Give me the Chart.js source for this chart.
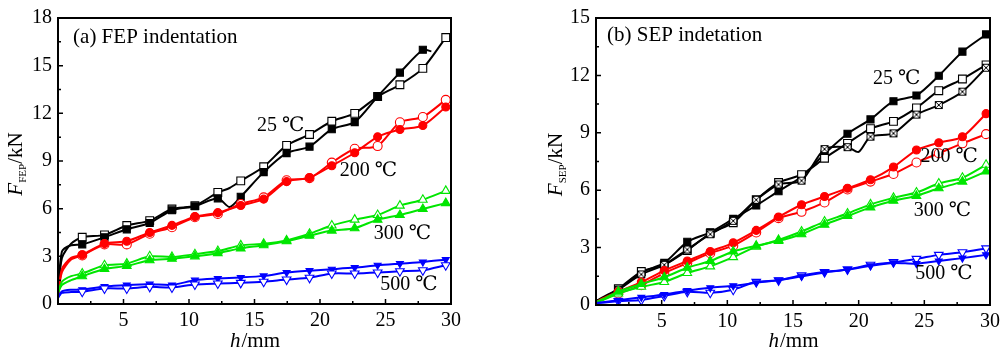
<!DOCTYPE html>
<html><head><meta charset="utf-8">
<script src="https://cdn.jsdelivr.net/npm/chart.js@4.4.0/dist/chart.umd.min.js"></script>
<style>
html,body{margin:0;padding:0;background:#fff;width:1008px;height:350px;overflow:hidden}
canvas{position:absolute;top:0}
#ca{left:0}
#cb{left:500px}
</style></head><body>
<canvas id="ca" width="500" height="350"></canvas>
<canvas id="cb" width="508" height="350"></canvas>
<script>
// ---------- data: panel (a) FEP ----------
const hA = [0, 0.3, 1.0, 1.85, 3.55, 5.25, 7.0, 8.7, 10.45, 12.2, 13.1, 13.95, 15.7, 17.45, 19.2, 20.9, 22.65, 24.4, 26.1, 27.85, 28.5, 29.6];
const hA_noMarker = [0, 0.3, 1.0, 13.1, 28.5];
const a25f  = [0.5, 3.3, 3.7, 3.75, 4.2, 4.7, 5.1, 5.9, 6.15, 6.65, 6.1, 6.75, 8.3, 9.5, 9.9, 11.0, 11.45, 13.06, 14.56, 16.0, 15.9, null];
const a25o  = [0.6, 2.9, 3.8, 4.2, 4.35, 4.94, 5.25, 5.98, 6.19, 7.02, 7.3, 7.75, 8.64, 9.98, 10.67, 11.5, 12.0, 13.06, 13.8, 14.83, null, 16.77];
const a200f = [0.5, 2.2, 2.9, 3.1, 3.8, 3.95, 4.5, 4.95, 5.5, 5.75, null, 6.2, 6.6, 7.7, 7.95, 8.7, 9.52, 10.52, 10.98, 11.23, null, 12.4];
const a200o = [0.5, 2.0, 2.8, 3.06, 3.75, 3.75, 4.42, 4.83, 5.46, 5.67, null, 6.29, 6.71, 7.79, 7.92, 8.9, 9.77, 9.94, 11.44, 11.77, null, 12.85];
const a300f = [0.7, 1.2, 1.5, 1.75, 2.2, 2.4, 2.75, 2.85, 3.0, 3.2, null, 3.5, 3.7, 3.95, 4.3, 4.62, 4.77, 5.31, 5.6, 5.98, null, 6.35];
const a300o = [0.7, 1.4, 1.75, 1.92, 2.44, 2.54, 3.0, 2.96, 3.13, 3.33, null, 3.69, 3.79, 4.0, 4.42, 4.94, 5.31, 5.6, 6.19, 6.56, null, 7.12];
const a500f = [0.4, 0.8, 0.9, 0.9, 1.1, 1.2, 1.25, 1.2, 1.5, 1.6, null, 1.67, 1.77, 1.98, 2.1, 2.19, 2.29, 2.44, 2.54, 2.64, null, 2.79];
const a500o = [0.4, 0.7, 0.75, 0.77, 0.98, 0.98, 1.08, 1.04, 1.23, 1.29, null, 1.33, 1.4, 1.54, 1.65, 1.92, 1.92, 1.98, 2.06, 2.12, null, 2.44];

// ---------- data: panel (b) SEP ----------
const hB = [0, 0.5, 1.7, 3.45, 5.2, 6.95, 8.7, 10.45, 12.2, 13.9, 15.65, 17.4, 19.15, 20.0, 20.9, 22.65, 24.4, 26.1, 27.9, 29.7];
const hB_noMarker = [0, 0.5, 20.0];
const b25f  = [0.2, 0.35, 0.8, 1.7, 2.2, 3.3, 3.8, 4.5, 5.2, 5.95, 6.7, 7.9, 8.95, null, 9.7, 10.65, 10.95, 11.98, 13.24, 14.14];
const b25o  = [0.2, 0.4, 0.85, 1.75, 2.1, 2.85, 3.75, 4.3, 5.5, 6.4, 6.81, 7.67, 8.45, null, 9.22, 9.6, 10.3, 11.2, 11.81, 12.55];
const b25x  = [0.2, 0.35, 0.8, 1.6, 2.1, 2.9, 3.7, 4.4, 5.5, 6.3, 6.5, 8.15, 8.25, 8.0, 8.8, 8.97, 9.95, 10.45, 11.15, 12.4];
const b200f = [0.15, 0.35, 0.7, 1.2, 1.8, 2.3, 2.8, 3.25, 3.9, 4.6, 5.24, 5.67, 6.1, null, 6.55, 7.21, 8.1, 8.48, 8.79, 10.0];
const b200o = [0.15, 0.3, 0.6, 1.03, 1.67, 2.19, 2.71, 3.1, 3.79, 4.54, 4.87, 5.36, 6.04, null, 6.45, 6.85, 7.45, 7.93, 8.45, 8.93];
const b300f = [0.15, 0.3, 0.7, 1.1, 1.45, 1.95, 2.3, 2.8, 3.1, 3.35, 3.7, 4.2, 4.65, null, 5.1, 5.45, 5.7, 6.1, 6.45, 6.98];
const b300o = [0.15, 0.25, 0.6, 0.95, 1.2, 1.67, 2.02, 2.5, 3.05, 3.4, 3.84, 4.36, 4.78, null, 5.26, 5.6, 5.88, 6.35, 6.65, 7.33];
const b500f = [0.1, 0.15, 0.25, 0.4, 0.55, 0.75, 0.9, 1.0, 1.16, 1.3, 1.5, 1.7, 1.85, null, 2.05, 2.2, 2.16, 2.3, 2.45, 2.62];
const b500o = [0.1, 0.12, 0.2, 0.26, 0.47, 0.69, 0.64, 0.8, 1.21, 1.29, 1.55, 1.72, 1.86, null, 2.1, 2.24, 2.41, 2.62, 2.76, 2.96];

// ---------- ticks & labels ----------
const xTicks = [5, 10, 15, 20, 25, 30];
const yTicksA = [0, 3, 6, 9, 12, 15, 18];
const yTicksB = [0, 3, 6, 9, 12, 15];
const tempLabels = ['25 ℃', '200 ℃', '300 ℃', '500 ℃'];
const tempPosA = [[15.2, 11.2], [21.5, 8.4], [24.1, 4.45], [24.6, 1.2]];
const tempPosB = [[21.1, 11.85], [24.7, 7.76], [24.2, 4.9], [24.3, 1.65]];

const BLACK = '#000000', RED = '#ff0000', GREEN = '#00e600', BLUE = '#0000ff';
const SERIF = "'Liberation Serif','Times New Roman','DejaVu Serif','Noto Sans CJK SC',serif";

// crossed square marker
function crossedSquare(){
  const c = document.createElement('canvas'); c.width = 10; c.height = 10;
  const g = c.getContext('2d');
  g.fillStyle = '#fff'; g.fillRect(1,1,8,8);
  g.strokeStyle = '#000'; g.lineWidth = 1;
  g.strokeRect(1.5,1.5,7,7);
  g.beginPath(); g.moveTo(1.5,1.5); g.lineTo(8.5,8.5); g.moveTo(8.5,1.5); g.lineTo(1.5,8.5); g.stroke();
  return c;
}
const XSQ = crossedSquare();

function ds(hs, noMark, vals, color, style, filled, rot, radius){
  return {
    data: hs.map((h,i)=>({x:h, y:vals[i]})),
    borderColor: color, borderWidth: 2, tension: 0.25, spanGaps: true,
    pointStyle: style, pointRotation: rot || 0,
    pointRadius: ctx => noMark.includes(hs[ctx.dataIndex]) ? 0 : (radius || 4),
    pointBackgroundColor: filled ? color : '#ffffff',
    pointBorderColor: color, pointBorderWidth: 1.1,
    fill: false
  };
}

function deco(opts){
  return {
    id: 'deco',
    afterDraw(chart){
      const ctx = chart.ctx, a = chart.chartArea, xs = chart.scales.x, ys = chart.scales.y;
      ctx.save();
      ctx.strokeStyle = '#000'; ctx.lineWidth = 1.5;
      ctx.beginPath();
      for (let k = 1; k < 12; k++){
        const v = k*2.5, px = xs.getPixelForValue(v), len = (k%2===0) ? 5 : 3;
        ctx.moveTo(px, a.bottom); ctx.lineTo(px, a.bottom - len);
      }
      const ymax = opts.yTicks[opts.yTicks.length-1];
      for (let k = 1; k < ymax/1.5; k++){
        const v = k*1.5, py = ys.getPixelForValue(v), len = (k%2===0) ? 5 : 3;
        ctx.moveTo(a.left, py); ctx.lineTo(a.left + len, py);
      }
      ctx.stroke();
      ctx.lineWidth = 2;
      ctx.strokeRect(a.left, a.top, a.right - a.left, a.bottom - a.top);
      ctx.fillStyle = '#000';
      // panel title
      ctx.font = '21px ' + SERIF; ctx.textBaseline = 'middle'; ctx.textAlign = 'left';
      ctx.fillText(opts.title, xs.getPixelForValue(opts.titlePos[0]), ys.getPixelForValue(opts.titlePos[1]));
      // temperature labels
      ctx.font = '20px ' + SERIF;
      opts.tempPos.forEach((p,i)=>ctx.fillText(tempLabels[i], xs.getPixelForValue(p[0]), ys.getPixelForValue(p[1])));
      // x title  h/mm
      ctx.textBaseline = 'alphabetic';
      const cx = (a.left + a.right)/2 + opts.xTitleShift;
      ctx.font = 'italic 21px ' + SERIF; const w1 = ctx.measureText('h').width;
      ctx.font = '21px ' + SERIF; const w2 = ctx.measureText('/mm').width;
      let x0 = cx - (w1+w2)/2;
      ctx.font = 'italic 21px ' + SERIF; ctx.fillText('h', x0, 347);
      ctx.font = '21px ' + SERIF; ctx.fillText('/mm', x0 + w1 + 1, 347);
      // y title  F_sub/kN
      ctx.save();
      ctx.translate(opts.yTitleX, (a.top + a.bottom)/2 + 3);
      ctx.rotate(-Math.PI/2);
      ctx.font = 'italic 21px ' + SERIF; const f1 = ctx.measureText('F').width;
      ctx.font = '11px ' + SERIF; const f2 = ctx.measureText(opts.sub).width;
      ctx.font = '21px ' + SERIF; const f3 = ctx.measureText('/kN').width;
      let s = -(f1+f2+f3)/2;
      ctx.font = 'italic 21px ' + SERIF; ctx.fillText('F', s, 0);
      ctx.font = '11px ' + SERIF; ctx.fillText(opts.sub, s + f1, 4);
      ctx.font = '21px ' + SERIF; ctx.fillText('/kN', s + f1 + f2, 0);
      ctx.restore();
      ctx.restore();
    }
  };
}

function makeChart(id, datasets, yTicks, yWidth, xHeight, padRight, opts){
  const ymax = yTicks[yTicks.length-1];
  return new Chart(document.getElementById(id), {
    type: 'line',
    data: { datasets },
    options: {
      responsive: false, animation: false, devicePixelRatio: 1,
      layout: { padding: { left: 0, top: 15, right: padRight, bottom: 0 } },
      plugins: { legend: { display: false }, tooltip: { enabled: false } },
      elements: { line: { capBezierPoints: true } },
      scales: {
        x: {
          type: 'linear', min: 0, max: 30,
          afterBuildTicks: sc => { sc.ticks = xTicks.map(v=>({value:v})); },
          afterFit: sc => { sc.height = xHeight; },
          grid: { display: false, drawTicks: false }, border: { display: false },
          ticks: { color: '#000', padding: 5, font: { family: SERIF, size: 20 }, maxRotation: 0 }
        },
        y: {
          type: 'linear', min: 0, max: ymax,
          afterBuildTicks: sc => { sc.ticks = yTicks.map(v=>({value:v})); },
          afterFit: sc => { sc.width = yWidth; },
          grid: { display: false, drawTicks: false }, border: { display: false },
          ticks: { color: '#000', padding: 6, font: { family: SERIF, size: 20 } }
        }
      }
    },
    plugins: [deco(Object.assign({ yTicks }, opts))]
  });
}

const dsA = [
  ds(hA, hA_noMarker, a500o, BLUE, 'triangle', false, 180, 5),
  ds(hA, hA_noMarker, a500f, BLUE, 'triangle', true, 180, 4),
  ds(hA, hA_noMarker, a300f, GREEN, 'triangle', true, 0, 5),
  ds(hA, hA_noMarker, a300o, GREEN, 'triangle', false, 0, 5),
  ds(hA, hA_noMarker, a200f, RED, 'circle', true, 0, 4),
  ds(hA, hA_noMarker, a200o, RED, 'circle', false, 0, 4.5),
  ds(hA, hA_noMarker, a25f, BLACK, 'rect', true, 0, 5),
  ds(hA, hA_noMarker, a25o, BLACK, 'rect', false, 0, 5.5)
];
const dsB = [
  ds(hB, hB_noMarker, b500f, BLUE, 'triangle', true, 180, 4),
  ds(hB, hB_noMarker, b500o, BLUE, 'triangle', false, 180, 5),
  ds(hB, hB_noMarker, b300f, GREEN, 'triangle', true, 0, 5),
  ds(hB, hB_noMarker, b300o, GREEN, 'triangle', false, 0, 5),
  ds(hB, hB_noMarker, b200f, RED, 'circle', true, 0, 4),
  ds(hB, hB_noMarker, b200o, RED, 'circle', false, 0, 4.5),
  ds(hB, hB_noMarker, b25x, BLACK, XSQ, false, 0, 5),
  ds(hB, hB_noMarker, b25o, BLACK, 'rect', false, 0, 5.5),
  ds(hB, hB_noMarker, b25f, BLACK, 'rect', true, 0, 5)
];

makeChart('ca', dsA, yTicksA, 58, 46, 49, {
  title: '(a) FEP indentation', titlePos: [1.15, 16.8], tempPos: tempPosA,
  sub: 'FEP', yTitleX: 22, xTitleShift: 0
});
makeChart('cb', dsB, yTicksB, 96, 45, 18, {
  title: '(b) SEP indetation', titlePos: [0.84, 14.07], tempPos: tempPosB,
  sub: 'SEP', yTitleX: 62, xTitleShift: 0
});
</script>
</body></html>
